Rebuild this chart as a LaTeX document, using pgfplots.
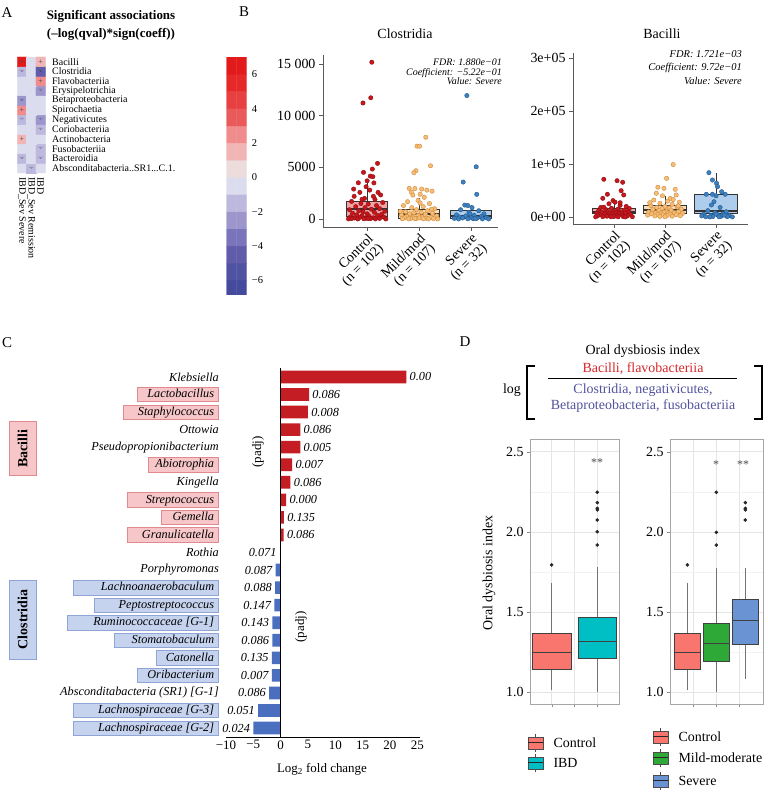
\documentclass[border=0pt]{standalone}
\usepackage{pgfplots}
\pgfplotsset{compat=1.18}
\usepgfplotslibrary{statistics}
\usepackage{fontspec}
\setmainfont{Liberation Serif}
\definecolor{hpink}{HTML}{F6C6C9}
\definecolor{hpinkd}{HTML}{E08A8F}
\definecolor{hblue}{HTML}{C6D3EF}
\definecolor{hblued}{HTML}{8EA5D6}
\definecolor{barred}{HTML}{C41E24}
\definecolor{barblue}{HTML}{4A6FBF}
\definecolor{ctrlfill}{HTML}{F2A3A3}
\definecolor{mildfill}{HTML}{FBDDBA}
\definecolor{sevfill}{HTML}{AECDEC}
\definecolor{ctrlpt}{HTML}{C8161D}
\definecolor{ctrlptd}{HTML}{8E0F14}
\definecolor{mildpt}{HTML}{F5BD78}
\definecolor{mildptd}{HTML}{D08C38}
\definecolor{sevpt}{HTML}{3F80BF}
\definecolor{sevptd}{HTML}{215A92}
\definecolor{dred}{HTML}{F8766D}
\definecolor{dteal}{HTML}{00BFC4}
\definecolor{dgreen}{HTML}{2EA836}
\definecolor{dblue}{HTML}{6A93D4}
\definecolor{txtred}{HTML}{D7262B}
\definecolor{txtblue}{HTML}{52529E}
\newcommand\fs[1]{\fontsize{#1}{#1}\selectfont}
\newcommand\absc{Absconditabacteria..SR1...C.1.}
\newcommand\gbox[4]{{\setlength\fboxsep{0.5bp}\setlength\fboxrule{0.6bp}\fcolorbox{#2}{#1}{\makebox[#3][r]{\rule[-3.2bp]{0pt}{12.8bp}\textit{#4}\hspace{3.6bp}}}}}
\newcommand\pb[2]{\gbox{hpink}{hpinkd}{#1}{#2}}
\newcommand\bb[2]{\gbox{hblue}{hblued}{#1}{#2}}
\newcommand\pl[1]{\textit{#1}\hspace{5.2bp}}
\newcommand\lkey[3]{%
 \draw[black!70, line width=0.6bp] (#1+7.5,#2-9)--(#1+7.5,#2+9);
 \draw[fill=#3, draw=black!70, line width=0.6bp] (#1,#2-6) rectangle (#1+15,#2+6);
 \draw[black!85, line width=1bp] (#1,#2)--(#1+15,#2);}
\pgfplotsset{
 colormap={heat}{rgb255=(68,74,158) rgb255=(80,82,162) rgb255=(96,92,169) rgb255=(122,116,186) rgb255=(156,150,204) rgb255=(189,184,221) rgb255=(220,220,239) rgb255=(236,220,220) rgb255=(242,181,181) rgb255=(240,140,140) rgb255=(235,90,90) rgb255=(232,64,64) rgb255=(230,40,40) rgb255=(227,26,28)},
 every axis/.append style={scale only axis, /pgf/number format/assume math mode=true, boxplot/draw direction=y},
 jit/.style={only marks, mark=*, mark size=2.2bp, mark options={line width=0.4bp, fill opacity=0.85}},
 bxc/.style={draw=black!80, line width=1bp, boxplot/every median/.style={line width=1.8bp}},
 bxd/.style={draw=black!75, line width=0.7bp, boxplot/every median/.style={line width=1.3bp}, boxplot/every whisker/.style={draw=black!55}},
 dpanel/.style={anchor=south west, height=265bp, ymin=0.927, ymax=2.579,
   ytick={1,1.5,2,2.5}, yticklabels={1.0,1.5,2.0,2.5}, minor ytick={1.25,1.75,2.25},
   xticklabels={}, grid=both, major grid style={draw=black!10}, minor grid style={draw=black!5},
   axis line style={draw=black!35}, tick style={draw=black!45}, tick align=outside, major tick length=3bp, minor tick length=0pt,
   tick pos=left, yticklabel style={font=\fs{14}}, clip=false},
 cbar/.style={xbar, bar shift=0pt, bar width=0.72, draw=none, point meta=explicit symbolic,
   nodes near coords, nodes near coords style={font=\itshape\fs{12.3}, text=black, inner sep=3.2bp}}
}
\begin{document}
\begin{tikzpicture}
\path[use as bounding box] (0bp,0bp) rectangle (768bp,793bp);
\fill[white] (0bp,0bp) rectangle (768bp,793bp);
% ---------- A: heatmap
\begin{axis}[at={(17.3bp,620bp)}, anchor=south west, width=28bp, height=116bp,
 xmin=-0.5, xmax=2.5, ymin=-0.5, ymax=11.5, enlargelimits=false,
 axis line style={draw=none}, tick style={draw=none}, major tick length=0pt,
 colormap name=heat, colormap access=direct,
 xtick={0,1,2}, xticklabels={IBD\_Sev Severe, IBD\_Sev Remission, IBD},
 xticklabel style={font=\fs{10}, yshift=-4bp, rotate=-90, anchor=west, inner sep=0pt},
 ytick={0,...,11},
 yticklabels={{\absc}, Bacteroidia, Fusobacteriia, Actinobacteria, Coriobacteriia, Negativicutes, Spirochaetia, Betaproteobacteria, Erysipelotrichia, Flavobacteriia, Clostridia, Bacilli},
 yticklabel pos=right, yticklabel style={font=\fs{10}, anchor=west, inner sep=0pt, xshift=6.7bp}, clip=false]
\addplot[matrix plot*, mesh/cols=3, point meta={floor(\thisrow{c})+7}] table {
x y c
0 0 -0.5
1 0 -1.5
2 0 -0.5
0 1 -1.5
1 1 -0.5
2 1 -1.5
0 2 -0.5
1 2 -0.5
2 2 -1.5
0 3 1.5
1 3 -0.5
2 3 -0.5
0 4 -0.5
1 4 -0.5
2 4 -1.5
0 5 -1.5
1 5 -0.5
2 5 -2.5
0 6 2.5
1 6 -0.5
2 6 -0.5
0 7 -2.5
1 7 -0.5
2 7 -0.5
0 8 -0.5
1 8 -0.5
2 8 -2.5
0 9 -0.5
1 9 -0.5
2 9 2.5
0 10 -1.5
1 10 -0.5
2 10 -4.5
0 11 6.5
1 11 -0.5
2 11 1.5
};
\addplot[only marks, mark=*, mark size=0.01pt, mark options={draw=none, fill=none}, nodes near coords={+}, nodes near coords style={anchor=center, inner sep=0pt, font=\fs{8}, text=black!70}] coordinates {(0,11) (2,11) (2,9) (0,6) (0,3)};
\addplot[only marks, mark=*, mark size=0.01pt, mark options={draw=none, fill=none}, nodes near coords={–}, nodes near coords style={anchor=center, inner sep=0pt, font=\fs{8}, text=black!70}] coordinates {(0,10) (2,10) (2,8) (0,7) (0,5) (2,5) (2,4) (2,2) (0,1) (2,1) (1,0)};
\end{axis}
% colour bar
\begin{axis}[at={(226.7bp,498bp)}, anchor=south west, width=20bp, height=240bp,
 xmin=-0.5, xmax=1.5, ymin=-6.86, ymax=7.13, enlargelimits=false,
 axis line style={draw=none}, tick style={draw=none}, major tick length=0pt,
 colormap name=heat, colormap access=direct,
 xtick=\empty, ytick={-6,-4,-2,0,2,4,6}, yticklabels={−6,−4,−2,0,2,4,6},
 yticklabel pos=right, yticklabel style={font=\fs{10.5}, anchor=west, inner sep=0pt, xshift=5bp}]
\addplot[matrix plot*, mesh/cols=2, point meta={floor(\thisrow{c})+7}] table {
x y c
0 -6.5 -6.5
1 -6.5 -6.5
0 -5.5 -5.5
1 -5.5 -5.5
0 -4.5 -4.5
1 -4.5 -4.5
0 -3.5 -3.5
1 -3.5 -3.5
0 -2.5 -2.5
1 -2.5 -2.5
0 -1.5 -1.5
1 -1.5 -1.5
0 -0.5 -0.5
1 -0.5 -0.5
0 0.5 0.5
1 0.5 0.5
0 1.5 1.5
1 1.5 1.5
0 2.5 2.5
1 2.5 2.5
0 3.5 3.5
1 3.5 3.5
0 4.5 4.5
1 4.5 4.5
0 5.5 5.5
1 5.5 5.5
0 6.5 6.5
1 6.5 6.5
};
\end{axis}
% ---------- B: Clostridia (y in thousands)
\begin{axis}[at={(323bp,566bp)}, anchor=south west, width=175bp, height=172bp,
 xmin=0.15, xmax=3.52, ymin=-0.775, ymax=15.9,
 axis lines*=left, axis line style={-, draw=black!65, line width=0.8bp},
 tick style={draw=black!65, line width=0.8bp}, tick align=outside, major tick length=4bp,
 xtick={1,2,3}, xticklabels={{Control\\(n = 102)},{Mild/mod\\(n = 107)},{Severe\\(n = 32)}},
 xticklabel style={font=\fs{14}, align=right, rotate=45, anchor=north east, inner sep=1bp},
 ytick={0,5,10,15}, yticklabels={0,5000,10 000,15 000}, yticklabel style={font=\fs{14}},
 clip=false]
\addplot[bxc, fill=ctrlfill, boxplot prepared={median=0.940, upper quartile=1.742, lower quartile=0.225, upper whisker=3.770, lower whisker=0, draw position=1, box extend=0.8, whisker extend=0}] coordinates {};
\addplot[bxc, fill=mildfill, boxplot prepared={median=0.484, upper quartile=0.968, lower quartile=0.065, upper whisker=2.000, lower whisker=0, draw position=2, box extend=0.8, whisker extend=0}] coordinates {};
\addplot[bxc, fill=sevfill, boxplot prepared={median=0.290, upper quartile=0.806, lower quartile=0, upper whisker=1.355, lower whisker=0, draw position=3, box extend=0.8, whisker extend=0}] coordinates {};
\addplot[jit, mark options={fill=ctrlpt, draw=ctrlptd}] table[y expr=\thisrow{y}/1000] {
x y
1.09 15200
1.07 11750
0.92 11250
0.93 4520
1.10 4840
1.20 5390
1.06 4160
1.11 4100
0.83 3510
1.13 3500
0.98 3130
1.21 2580
1.26 2330
0.86 2580
1.05 2800
0.75 2200
0.95 2000
1.15 1900
0.70 1700
1.30 1600
0.88 1500
1.02 1450
1.18 1300
0.78 1200
0.96 1100
1.24 1000
0.66 900
1.08 950
0.84 800
1.34 750
0.92 700
1.14 650
0.72 550
1.00 500
1.28 450
0.80 400
1.20 350
0.90 300
1.04 250
0.68 200
1.32 180
0.86 150
1.12 120
0.76 100
0.98 80
1.24 60
0.70 40
1.06 30
0.94 20
1.16 10
0.82 5
1.36 5
0.64 10
1.02 50
0.90 1900
1.12 2200
0.74 2900
1.00 3700
};
\addplot[jit, mark options={fill=mildpt, draw=mildptd}] table[y expr=\thisrow{y}/1000] {
x y
2.13 7930
1.96 7060
2.01 7060
2.22 5160
1.94 4680
1.90 4490
1.81 2970
1.92 2950
2.05 2900
2.15 2800
1.85 2600
2.25 2700
1.88 2320
2.02 2400
2.10 2100
1.78 1680
1.98 1800
2.20 1500
1.70 1300
2.08 1200
1.86 1100
2.30 1000
1.95 900
2.16 800
1.74 700
2.04 650
1.90 600
2.26 550
1.82 500
2.12 450
1.66 400
1.98 350
2.34 300
1.76 250
2.06 200
1.88 180
2.22 150
1.72 120
2.00 100
2.14 80
1.84 60
2.28 40
1.94 30
2.08 20
1.68 15
2.36 10
1.80 5
2.18 5
1.92 50
2.02 1550
2.24 950
1.64 750
};
\addplot[jit, mark options={fill=sevpt, draw=sevptd}] table[y expr=\thisrow{y}/1000] {
x y
2.92 11970
3.10 5060
2.85 3580
3.11 2390
2.88 1350
2.94 1300
3.02 1100
2.80 900
3.15 800
2.96 650
3.25 500
2.72 400
3.06 350
2.90 300
3.20 250
2.78 200
3.00 150
3.30 120
2.84 100
3.12 80
2.68 60
3.04 40
2.94 20
3.22 10
2.76 5
3.34 5
3.08 30
2.98 500
};
\end{axis}
% ---------- B: Bacilli (y in units of 10^4)
\begin{axis}[at={(573bp,569bp)}, anchor=south west, width=175bp, height=171bp,
 xmin=0.196, xmax=3.627, ymin=-1.3233, ymax=31,
 axis lines*=left, axis line style={-, draw=black!65, line width=0.8bp},
 tick style={draw=black!65, line width=0.8bp}, tick align=outside, major tick length=4bp,
 xtick={1,2,3}, xticklabels={{Control\\(n = 102)},{Mild/mod\\(n = 107)},{Severe\\(n = 32)}},
 xticklabel style={font=\fs{14}, align=right, rotate=45, anchor=north east, inner sep=1bp},
 ytick={0,10,20,30}, yticklabels={0e+00,1e+05,2e+05,3e+05}, yticklabel style={font=\fs{14}},
 clip=false]
\addplot[bxc, fill=ctrlfill, boxplot prepared={median=1.0, upper quartile=1.64, lower quartile=0.57, upper whisker=2.7, lower whisker=0, draw position=1, box extend=0.84, whisker extend=0}] coordinates {};
\addplot[bxc, fill=mildfill, boxplot prepared={median=1.32, upper quartile=2.14, lower quartile=0.57, upper whisker=3.97, lower whisker=0, draw position=2, box extend=0.84, whisker extend=0}] coordinates {};
\addplot[bxc, fill=sevfill, boxplot prepared={median=1.2, upper quartile=4.16, lower quartile=0.57, upper whisker=8.37, lower whisker=0, draw position=3, box extend=0.84, whisker extend=0}] coordinates {};
\addplot[jit, mark options={fill=ctrlpt, draw=ctrlptd}] table[y expr=\thisrow{y}/10000] {
x y
0.80 71300
1.06 68600
1.17 65600
1.14 49700
0.87 42900
1.19 41600
0.78 35300
0.98 31000
1.02 28000
0.90 25000
1.12 22000
1.24 20000
0.74 18000
0.95 16500
1.08 15000
0.84 14000
1.20 13000
0.70 12000
1.00 11000
1.28 10500
0.88 10000
1.14 9500
0.76 9000
1.04 8500
0.92 8000
1.22 7500
0.66 7000
1.10 6500
0.82 6000
0.98 5500
1.32 5000
0.72 4500
1.16 4000
0.90 3500
1.06 3000
0.68 2500
1.26 2000
0.86 1500
1.00 1000
1.18 800
0.78 600
1.36 500
0.94 400
1.08 300
0.64 200
1.22 100
0.80 18500
1.12 27000
1.30 16000
};
\addplot[jit, mark options={fill=mildpt, draw=mildptd}] table[y expr=\thisrow{y}/10000] {
x y
2.16 99000
2.03 73000
1.98 54200
1.86 56300
2.20 52300
1.83 44800
2.22 41600
1.95 40000
2.10 35000
1.78 32000
2.05 30000
2.28 28000
1.90 26000
2.14 24000
1.72 22000
2.00 20000
2.24 19000
1.84 18000
2.08 17000
1.94 16000
2.32 15000
1.76 14000
2.12 13000
1.88 12000
2.02 11000
2.26 10000
1.68 9500
1.98 9000
2.18 8500
1.82 8000
2.06 7500
1.92 7000
2.34 6500
1.74 6000
2.10 5500
1.86 5000
2.22 4500
1.96 4000
1.66 3500
2.04 3000
2.30 2500
1.80 2000
2.14 1500
1.90 1000
2.00 500
2.26 21000
1.70 27000
2.16 33000
};
\addplot[jit, mark options={fill=sevpt, draw=sevptd}] table[y expr=\thisrow{y}/10000] {
x y
2.86 83800
2.93 70000
3.01 63700
3.03 57300
3.11 47800
2.93 42900
2.81 42900
3.18 42900
3.00 40000
2.96 28900
2.91 22700
3.08 18000
2.84 12000
3.20 10000
2.98 8000
3.14 6000
2.76 5000
3.04 4000
2.90 3000
3.26 2500
2.72 2000
3.10 1500
2.94 1000
3.22 800
2.80 500
3.06 300
3.32 200
2.88 100
3.00 5500
3.16 3500
};
\end{axis}
% ---------- C: fold change bars
\begin{axis}[at={(226bp,56bp)}, anchor=south west, width=194bp, height=369bp,
 xmin=-10, xmax=25.5, ymin=0.49, ymax=21.51,
 axis lines*=left, x axis line style={-, draw=black, line width=0.8bp}, y axis line style={draw=none},
 tick style={draw=none}, major tick length=0pt,
 xtick={-10,-5,0,5,10,15,20,25}, xticklabels={−10,−5,0,5,10,15,20,25}, xticklabel style={font=\fs{13}},
 ytick={1,...,21},
 yticklabels={{\bb{143.8bp}{Lachnospiraceae [G-2]}},{\bb{143.8bp}{Lachnospiraceae [G-3]}},{\pl{Absconditabacteria (SR1) [G-1]}},{\bb{79.8bp}{Oribacterium}},{\bb{60.8bp}{Catonella}},{\bb{102.8bp}{Stomatobaculum}},{\bb{149.8bp}{Ruminococcaceae [G-1]}},{\bb{122.8bp}{Peptostreptococcus}},{\bb{143.8bp}{Lachnoanaerobaculum}},{\pl{Porphyromonas}},{\pl{Rothia}},{\pb{89.8bp}{Granulicatella}},{\pb{55.8bp}{Gemella}},{\pb{89.8bp}{Streptococcus}},{\pl{Kingella}},{\pb{68.8bp}{Abiotrophia}},{\pl{Pseudopropionibacterium}},{\pl{Ottowia}},{\pb{93.8bp}{Staphylococcus}},{\pb{79.8bp}{Lactobacillus}},{\pl{Klebsiella}}},
 yticklabel style={font=\fs{12.3}, anchor=east, inner sep=0pt, xshift=-7bp},
 clip=false]
\addplot[cbar, fill=barred, nodes near coords style={anchor=west}] table[x=v, y=r, meta=p] {
v r p
23.0 21 0.00
5.2 20 0.086
5.0 19 0.008
3.6 18 0.086
3.6 17 0.005
2.1 16 0.007
1.8 15 0.086
1.0 14 0.000
0.6 13 0.135
0.55 12 0.086
};
\addplot[cbar, fill=barred, nodes near coords style={anchor=east}] table[x=v, y=r, meta=p] {
v r p
-0.15 11 0.071
};
\addplot[cbar, fill=barblue, nodes near coords style={anchor=east}] table[x=v, y=r, meta=p] {
v r p
-0.9 10 0.087
-1.0 9 0.088
-1.15 8 0.147
-1.5 7 0.143
-1.5 6 0.086
-1.6 5 0.135
-1.6 4 0.007
-2.1 3 0.086
-4.1 2 0.051
-5.0 1 0.024
};
\addplot[black, line width=1.4bp] coordinates {(0,0.49) (0,21.51)};
\end{axis}
% ---------- D: left boxplots
\begin{axis}[dpanel, at={(530bp,89bp)}, width=89bp, xmin=0.525, xmax=2.475, xtick={1,1.5,2}]
\addplot[bxd, fill=dred, boxplot prepared={median=1.249, upper quartile=1.368, lower quartile=1.143, upper whisker=1.68, lower whisker=1.014, draw position=1, box extend=0.85, whisker extend=0}] coordinates {};
\addplot[bxd, fill=dteal, boxplot prepared={median=1.315, upper quartile=1.468, lower quartile=1.212, upper whisker=1.779, lower whisker=1.0, draw position=2, box extend=0.85, whisker extend=0}] coordinates {};
\addplot[only marks, mark=*, mark size=1.6bp, black!85] coordinates {(1,1.794) (2,2.247) (2,2.182) (2,2.147) (2,2.137) (2,2.074) (2,2.001) (2,1.918)};
\end{axis}
% ---------- D: right boxplots
\begin{axis}[dpanel, at={(670bp,89bp)}, width=93.3bp, xmin=0.4, xmax=3.62, xtick={1.19,2,2.8}]
\addplot[bxd, fill=dred, boxplot prepared={median=1.249, upper quartile=1.368, lower quartile=1.143, upper whisker=1.68, lower whisker=1.014, draw position=1, box extend=0.92, whisker extend=0}] coordinates {};
\addplot[bxd, fill=dgreen, boxplot prepared={median=1.305, upper quartile=1.430, lower quartile=1.195, upper whisker=1.773, lower whisker=1.0, draw position=2, box extend=0.92, whisker extend=0}] coordinates {};
\addplot[bxd, fill=dblue, boxplot prepared={median=1.446, upper quartile=1.580, lower quartile=1.299, upper whisker=1.777, lower whisker=1.083, draw position=3, box extend=0.92, whisker extend=0}] coordinates {};
\addplot[only marks, mark=*, mark size=1.6bp, black!85] coordinates {(1,1.794) (2,2.247) (2,1.997) (2,1.918) (3,2.182) (3,2.147) (3,2.137) (3,2.074)};
\end{axis}
% ================= decorations (top-left origin)
\begin{scope}[x=1bp, y=-1bp, yshift=793bp]
\node[font=\fs{15}] at (7,13) {A};
\node[font=\fs{15}] at (244,12) {B};
\node[font=\fs{15}] at (7,343) {C};
\node[font=\fs{15}] at (465,342) {D};
\node[font=\bfseries\fs{13}] at (111,16) {Significant associations};
\node[font=\bfseries\fs{13}] at (111,34) {(–log(qval)*sign(coeff))};
\node[font=\fs{14}] at (405,34) {Clostridia};
\node[anchor=north east, align=right, font=\itshape\fontsize{10}{9.4}\selectfont, inner sep=0pt] at (502,59) {FDR: 1.880e−01\\Coefficient: −5.22e−01\\Value: Severe};
\node[font=\fs{14}] at (662,34) {Bacilli};
\node[anchor=north east, align=right, font=\itshape\fontsize{10.5}{13.5}\selectfont, inner sep=0pt] at (742,50) {FDR: 1.721e−03\\Coefficient: 9.72e−01\\Value: Severe};
\node[draw=hpinkd, fill=hpink, rotate=90, minimum width=54bp, minimum height=27bp, inner sep=0pt, font=\bfseries\fs{14}] at (22.5,448.7) {Bacilli};
\node[draw=hblued, fill=hblue, rotate=90, minimum width=79bp, minimum height=27bp, inner sep=0pt, font=\bfseries\fs{14}] at (22.5,619.5) {Clostridia};
\node[rotate=90, font=\fs{13}] at (258,452) {(padj)};
\node[rotate=90, font=\fs{13}] at (301,627) {(padj)};
\node[font=\fs{13}] at (322,769) {Log\textsubscript{2} fold change};
\node[font=\fs{14}] at (643,351) {Oral dysbiosis index};
\node[font=\fs{14}, text=txtred] at (643,369) {Bacilli, flavobacteriia};
\draw[black, line width=1bp] (548,379)--(737,379);
\node[font=\fs{14}, text=txtblue] at (643,390) {Clostridia, negativicutes,};
\node[font=\fs{14}, text=txtblue] at (643,406) {Betaproteobacteria, fusobacteriia};
\node[font=\fs{14}] at (512,390) {log};
\draw[black, line width=1.8bp] (535,366)--(527,366)--(527,419)--(535,419);
\draw[black, line width=1.8bp] (754,366)--(762,366)--(762,419)--(754,419);
\node[rotate=90, font=\fs{14}] at (489,573) {Oral dysbiosis index};
\node[font=\fs{12}, text=black!70] at (597,463) {**};
\node[font=\fs{12}, text=black!70] at (716,465) {*};
\node[font=\fs{12}, text=black!70] at (743,465) {**};
\lkey{528}{743}{dred}
\lkey{528}{763}{dteal}
\node[anchor=west, font=\fs{14}] at (550,743) {Control};
\node[anchor=west, font=\fs{14}] at (550,763) {IBD};
\lkey{653}{737}{dred}
\lkey{653}{758}{dgreen}
\lkey{653}{781}{dblue}
\node[anchor=west, font=\fs{14}] at (675,737) {Control};
\node[anchor=west, font=\fs{14}] at (675,758) {Mild-moderate};
\node[anchor=west, font=\fs{14}] at (675,781) {Severe};
\end{scope}
\end{tikzpicture}
\end{document}
